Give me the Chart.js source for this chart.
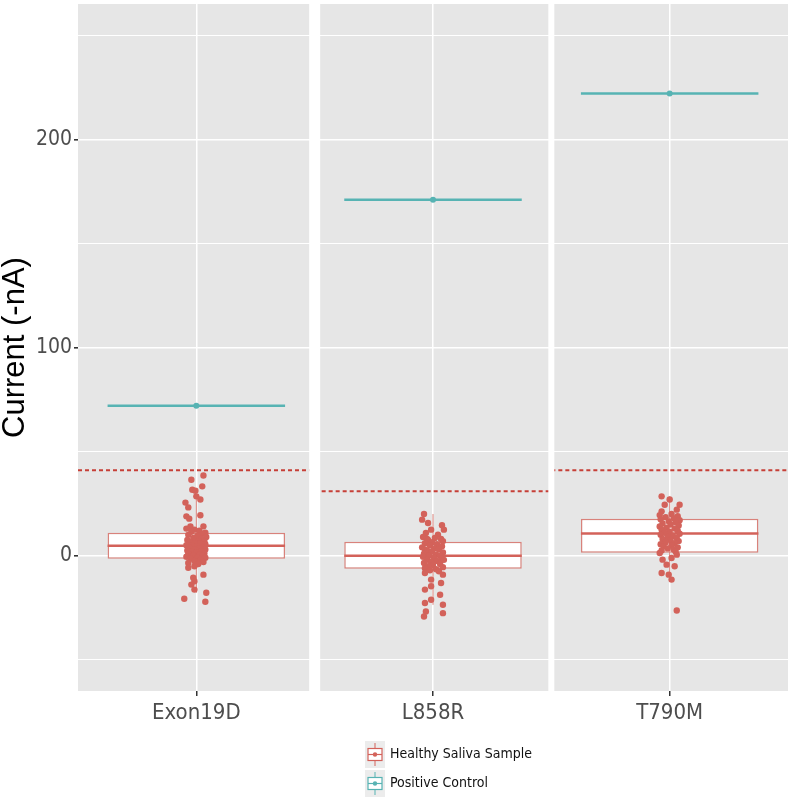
<!DOCTYPE html>
<html lang="en">
<head>
  <meta charset="UTF-8">
  <title>Current (-nA) by mutation</title>
  <script src="https://cdn.jsdelivr.net/npm/chart.js"></script>
  <style>
    body {
      margin: 0;
      background: #fff;
    }
    canvas {
      display: block;
    }
  </style>
</head>
<body>
  <canvas id="grafica" width="792" height="799"></canvas>

  <script>
    // Categories and summary values
    const categories = ['Exon19D', 'L858R', 'T790M'];
    const positiveControl = [72, 171, 222];
    const cutoff = [41, 31, 41];
    const boxQ1 = [-1.5, -6.3, 1.4];
    const boxMedian = [4.8, 0, 10.6];
    const boxQ3 = [11, 6.7, 17.8];
    const whiskerLow = [-17.8, -23.6, -11.5];
    const whiskerHigh = [28.5, 20, 28.5];

    // Healthy saliva samples: value and horizontal jitter (category units)
    const exon19dValues = [36.5, 38.5, 33.3, 31.7, 31.2, 28.5, 27, 25.5, 23.2, 18.9, 19.4, 17.8, 14.1, 14.1, 12.5, 11,
      13, 12, 11.5, 10.5, 10, 9.5, 9, 8.5, 8, 7.5, 7, 7, 6.5, 6, 6, 5.5, 5, 5, 4.5, 4, 4, 3.5, 3, 3, 2.5, 2, 2, 1.5,
      1, 1, 0.5, 0, 0, -0.5, -1, -1, -1.5, -2, -2.5, -3, -3.5, -4,
      -5.1, -5.8, -9.1, -10.6, -12.3, -13.9, -16.3, -17.8, -20.7, -22.1];
    const exon19dJitter = [-0.021, 0.030, 0.025, -0.017, -0.004, 0, 0.017, -0.046, -0.034, -0.042, 0.017, -0.030, -0.025, 0.030, -0.008, 0.038,
      -0.042, 0.013, -0.021, 0.025, -0.034, 0.004, 0.042, -0.013, 0.021, -0.038, 0.008, 0.034, -0.025, -0.004, 0.017, 0.038, -0.042, -0.017, 0.004, 0.025, -0.030, 0.013, -0.008, 0.038, -0.038, 0.021, -0.021, 0,
      0.034, -0.034, 0.013, -0.013, 0.025, -0.042, 0.004, 0.038, -0.025, 0.017, -0.008, 0.030, -0.034, 0.008,
      -0.008, -0.034, 0.030, -0.013, -0.008, -0.021, -0.008, 0.042, -0.051, 0.038];

    const l858rValues = [20, 17.3, 15.7, 14.6, 12.5, 12.5, 10.9, 10.1,
      9, 8.5, 8, 8, 7.5, 7, 6.5, 6, 5.5, 5, 4.5, 4, 3.5, 3, 3, 2.5, 2, 1.5, 1, 0.5, 0, 0,
      -0.5, -1, -1.5, -2, -2, -2.5, -3, -3.5, -4, -4.5, -5, -5.5, -6, -6.5, -7, -7.5,
      -8.3, -9.1, -11.5, -13.1, -14.7, -16.3, -18.8, -21.2, -22.7, -23.6, -26.8, -27.6, -29.2];
    const l858rJitter = [-0.038, -0.046, -0.021, 0.038, 0.046, -0.008, -0.030, 0.021,
      -0.042, 0.008, 0.034, -0.025, -0.021, 0.042, -0.004, -0.034, 0.017, -0.013, 0.038, -0.046, 0.004, 0.025, -0.034, -0.025, -0.004, 0.042, -0.038, 0.013, -0.017, 0.030,
      -0.042, 0.004, 0.038, -0.025, 0.046, 0.017, -0.008, -0.038, 0.030, 0, -0.021, 0.042, -0.034, 0.013, -0.013, 0.025,
      -0.034, 0.042, -0.008, 0.034, -0.008, -0.034, 0.030, -0.008, -0.034, 0.042, -0.030, 0.042, -0.038];

    const t790mValues = [28.5, 27, 24.5, 24.5, 22.1, 21.3,
      20, 19.5, 19, 18.5, 18, 17.5, 17, 16.5, 16, 15.5, 15, 14.5, 14, 13.5, 13, 12.5, 12, 11.5, 11, 10.5,
      10, 9.5, 9, 8.5, 8, 7.5, 7, 6.5, 6, 5.5, 5, 4.5, 4, 3.5, 3, 2.5, 2,
      1.3, 0.5, -1.1, -1.9, -4.3, -5.1, -8.3, -9.1, -11.5, -26.3];
    const t790mJitter = [-0.034, 0, -0.021, 0.042, 0.030, -0.034,
      0.008, -0.042, 0.034, -0.017, 0.017, -0.038, 0.042, -0.004, 0.025, -0.030, 0.004, 0.038, -0.042, -0.013, 0.021, -0.034, 0.034, 0, -0.021, 0.042,
      -0.038, 0.013, -0.008, 0.030, -0.030, 0.004, 0.038, -0.017, 0.021, -0.038, 0.008, -0.025, 0.034, -0.008, 0.017, -0.034, 0.025,
      -0.042, 0.030, 0.008, -0.030, -0.013, 0.021, -0.034, -0.004, 0.008, 0.030];

    // Axis ticks
    const yGrid = [-50, 0, 50, 100, 150, 200, 250];
    const yLabels = [0, 100, 200];

    const samples = [
      { values: exon19dValues, jitter: exon19dJitter },
      { values: l858rValues, jitter: l858rJitter },
      { values: t790mValues, jitter: t790mJitter }
    ];

    const ROJO = '#d3625a';
    const ROJO_BORDE = '#d9827b';
    const ROJO_CORTE = '#c63f37';
    const TEAL = '#57b3b3';
    const GRIS_PANEL = '#e6e6e6';
    const FUENTE_ESTRECHA = "'Liberation Sans Narrow', 'DejaVu Sans Condensed', 'Liberation Sans', sans-serif";
    const HALF_BOX = 0.375;
    const GAPS = [{ at: 1.5, px: 11 }, { at: 2.5, px: 6 }];

    // Build datasets
    const datasets = [];

    // whiskers
    categories.forEach((c, i) => {
      datasets.push({
        type: 'line', order: 6,
        data: [{ x: i + 1, y: whiskerLow[i] }, { x: i + 1, y: whiskerHigh[i] }],
        borderColor: ROJO_BORDE, borderWidth: 1, pointRadius: 0
      });
    });

    // boxes
    datasets.push({
      type: 'bar', order: 5,
      data: categories.map((c, i) => ({ x: i + 1, y: [boxQ1[i], boxQ3[i]] })),
      backgroundColor: '#ffffff',
      borderColor: ROJO_BORDE,
      borderWidth: 1.5,
      borderSkipped: false,
      barPercentage: HALF_BOX * 2,
      categoryPercentage: 1
    });

    // medians
    categories.forEach((c, i) => {
      datasets.push({
        type: 'line', order: 4,
        data: [{ x: i + 1 - HALF_BOX, y: boxMedian[i] }, { x: i + 1 + HALF_BOX, y: boxMedian[i] }],
        borderColor: ROJO, borderWidth: 2.5, pointRadius: 0
      });
    });

    // jittered points
    datasets.push({
      type: 'scatter', order: 3,
      data: samples.flatMap((s, i) => s.values.map((v, k) => ({ x: i + 1 + s.jitter[k], y: v }))),
      backgroundColor: ROJO, borderWidth: 0, pointRadius: 3.2
    });

    // cut-off lines
    categories.forEach((c, i) => {
      datasets.push({
        type: 'line', order: 2,
        data: [{ x: i + 0.5, y: cutoff[i] }, { x: i + 1.5, y: cutoff[i] }],
        borderColor: ROJO_CORTE, borderWidth: 2, borderDash: [4, 3], pointRadius: 0
      });
    });

    // positive control
    categories.forEach((c, i) => {
      datasets.push({
        type: 'line', order: 1,
        data: [
          { x: i + 1 - HALF_BOX, y: positiveControl[i] },
          { x: i + 1, y: positiveControl[i] },
          { x: i + 1 + HALF_BOX, y: positiveControl[i] }
        ],
        borderColor: TEAL, backgroundColor: TEAL, borderWidth: 2.5,
        pointRadius: [0, 3, 0], pointBorderWidth: 0
      });
    });

    // Gray facet panels and white gaps between them
    const paneles = {
      id: 'paneles',
      beforeDraw(chart) {
        const { ctx, chartArea: a } = chart;
        ctx.save();
        ctx.fillStyle = GRIS_PANEL;
        ctx.fillRect(a.left, a.top, a.right - a.left, a.bottom - a.top);
        ctx.restore();
      },
      afterDatasetsDraw(chart) {
        const { ctx, chartArea: a, scales } = chart;
        ctx.save();
        ctx.fillStyle = '#ffffff';
        GAPS.forEach(g => {
          const px = scales.x.getPixelForValue(g.at);
          ctx.fillRect(px - g.px / 2, a.top - 1, g.px, a.bottom - a.top + 2);
        });
        ctx.restore();
      }
    };

    // Legend with boxplot keys
    const leyenda = {
      id: 'leyenda',
      afterDraw(chart) {
        const ctx = chart.ctx;
        const items = [
          { text: 'Healthy Saliva Sample', color: ROJO },
          { text: 'Positive Control', color: TEAL }
        ];
        ctx.save();
        items.forEach((it, k) => {
          const x0 = 365, y0 = 741 + k * 29;
          ctx.fillStyle = '#ececec';
          ctx.fillRect(x0, y0, 20, 27);
          const cx = x0 + 10, cy = y0 + 13.5;
          ctx.strokeStyle = it.color;
          ctx.lineWidth = 1;
          ctx.beginPath();
          ctx.moveTo(cx, y0 + 2); ctx.lineTo(cx, y0 + 25);
          ctx.stroke();
          ctx.fillStyle = '#ffffff';
          ctx.fillRect(x0 + 3, cy - 6, 14, 12);
          ctx.lineWidth = 1.2;
          ctx.strokeRect(x0 + 3, cy - 6, 14, 12);
          ctx.beginPath();
          ctx.moveTo(x0 + 3, cy); ctx.lineTo(x0 + 17, cy);
          ctx.stroke();
          ctx.fillStyle = it.color;
          ctx.beginPath();
          ctx.arc(cx, cy, 2.2, 0, Math.PI * 2);
          ctx.fill();
          ctx.fillStyle = '#111111';
          ctx.font = '14px ' + FUENTE_ESTRECHA;
          ctx.textAlign = 'left';
          ctx.textBaseline = 'middle';
          ctx.fillText(it.text, x0 + 25, cy);
        });
        ctx.restore();
      }
    };

    new Chart(document.getElementById('grafica'), {
      type: 'bar',
      data: { datasets },
      options: {
        responsive: false,
        animation: false,
        layout: { padding: { top: 3, right: 3, bottom: 70, left: 0 } },
        plugins: {
          legend: { display: false },
          tooltip: { enabled: false }
        },
        scales: {
          x: {
            type: 'linear',
            min: 0.5,
            max: 3.5,
            offset: false,
            afterBuildTicks: s => { s.ticks = categories.map((c, i) => ({ value: i + 1 })); },
            afterFit: s => { s.height = 38; s.paddingLeft = 0; s.paddingRight = 0; },
            ticks: {
              callback: v => categories[v - 1],
              color: '#4d4d4d',
              font: { family: FUENTE_ESTRECHA, size: 22 },
              padding: 4,
              maxRotation: 0
            },
            grid: { color: '#ffffff', lineWidth: 1.5, offset: false, tickLength: 5, tickColor: '#333333' },
            border: { display: false }
          },
          y: {
            type: 'linear',
            min: -65,
            max: 265,
            afterBuildTicks: s => { s.ticks = yGrid.map(v => ({ value: v })); },
            afterFit: s => { s.width = 78; s.paddingTop = 0; s.paddingBottom = 0; },
            ticks: {
              callback: v => (yLabels.includes(v) ? String(v) : ''),
              color: '#4d4d4d',
              font: { family: FUENTE_ESTRECHA, size: 21 },
              padding: 2
            },
            grid: {
              color: '#ffffff',
              lineWidth: c => (c.tick && yLabels.includes(c.tick.value) ? 1.6 : 1),
              tickLength: 4,
              tickColor: c => (c.tick && yLabels.includes(c.tick.value) ? '#333333' : 'rgba(0,0,0,0)')
            },
            border: { display: false },
            title: {
              display: true,
              text: 'Current (-nA)',
              color: '#000000',
              font: { family: "'Liberation Sans', Arial, sans-serif", size: 31, lineHeight: 1 },
              padding: { top: 0, bottom: 0 }
            }
          }
        }
      },
      plugins: [paneles, leyenda]
    });
  </script>
</body>
</html>
